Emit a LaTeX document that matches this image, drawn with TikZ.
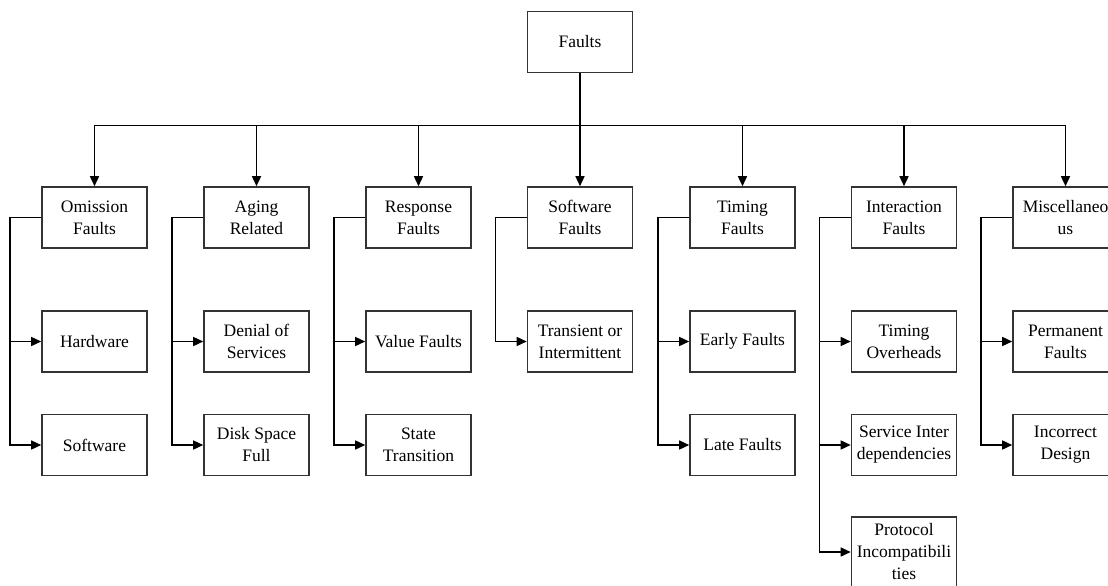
\documentclass[tikz,border=0pt]{standalone}
\usepackage{fontspec}
\setmainfont{Liberation Serif}
\usetikzlibrary{arrows.meta}
\begin{document}
\begin{tikzpicture}[x=1pt,y=-1pt,
  box/.style={draw=black!80,line width=1.6pt,fill=white,minimum width=105pt,minimum height=61pt,
    inner sep=0pt,align=center,font=\fontsize{17.5}{22}\selectfont},
  tallbox/.style={box,minimum height=70pt},
  link/.style={draw=black,line width=1.5pt},
  arr/.style={link,-{Triangle[length=10pt,width=9pt]}}]
\useasboundingbox (0,0) rectangle (1108,586);
\clip (0,0) rectangle (1108,586);
\fill[white] (0,0) rectangle (1108,586);

% root
\node[box] (root) at (580,42) {Faults};

% first level
\node[box] (om)  at (94.5,217.5)  {Omission\\Faults};
\node[box] (ag)  at (256.5,217.5) {Aging\\Related};
\node[box] (re)  at (418.5,217.5) {Response\\Faults};
\node[box] (sw)  at (580,217.5)   {Software\\Faults};
\node[box] (ti)  at (742.5,217.5) {Timing\\Faults};
\node[box] (in)  at (904,217.5)   {Interaction\\Faults};
\node[box] (mi)  at (1065.5,217.5){Miscellaneo\\us};

% leaves
\node[box] (om1) at (94.5,341.5)  {Hardware};
\node[box] (om2) at (94.5,445)    {Software};
\node[box] (ag1) at (256.5,341.5) {Denial of\\Services};
\node[box] (ag2) at (256.5,445)   {Disk Space\\Full};
\node[box] (re1) at (418.5,341.5) {Value Faults};
\node[box] (re2) at (418.5,445)   {State\\Transition};
\node[box] (sw1) at (580,341.5)   {Transient or\\Intermittent};
\node[box] (ti1) at (742.5,341.5) {Early Faults\strut};
\node[box] (ti2) at (742.5,445)   {Late Faults};
\node[box] (in1) at (904,341.5)   {Timing\\Overheads};
\node[box] (in2) at (904,445)     {Service Inter\\dependencies};
\node[tallbox] (in3) at (904,552) {Protocol\\Incompatibili\\ties};
\node[box] (mi1) at (1065.5,341.5){Permanent\\Faults};
\node[box] (mi2) at (1065.5,445)  {Incorrect\\Design};

% root to first level through the bus
\foreach \c in {om,ag,re,sw,ti,in,mi}
  \draw[arr] (root.south) -- ++(0,52) -| (\c.north);

% first level to leaves
\foreach \p/\c in {om/om1,om/om2,ag/ag1,ag/ag2,re/re1,re/re2,sw/sw1,
                   ti/ti1,ti/ti2,in/in1,in/in2,in/in3,mi/mi1,mi/mi2}
  \draw[arr] (\p.west) -- ++(-31,0) |- (\c.west);
\end{tikzpicture}
\end{document}
